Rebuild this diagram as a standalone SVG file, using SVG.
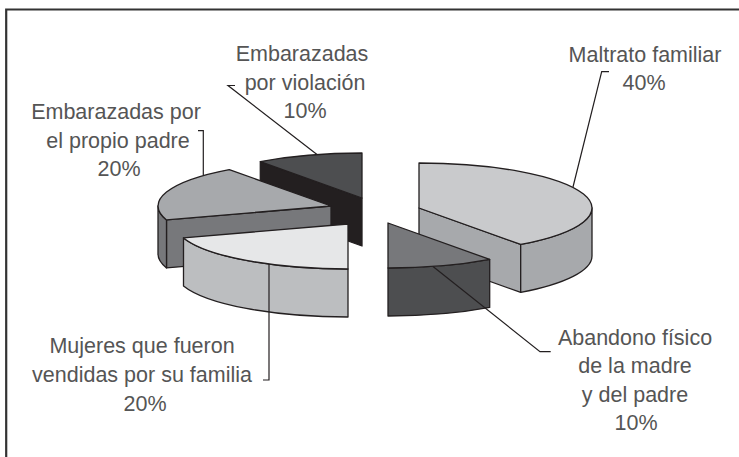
<svg xmlns="http://www.w3.org/2000/svg" width="739" height="457" viewBox="0 0 739 457">
<style>
.e{stroke:#231f20;stroke-width:1.3;stroke-linejoin:round}
.ld{fill:none;stroke:#231f20;stroke-width:1.2}
.t{font-family:"Liberation Sans",Arial,sans-serif;font-size:21.5px;fill:#555555;text-anchor:middle}
</style>
<rect width="739" height="457" fill="#ffffff"/>
<path d="M6.2,457 V9.5 H739" fill="none" stroke="#333333" stroke-width="2.2"/>
<g id="slice-violacion">
<path class="e" fill="#231f20" d="M362,198 L260.3,161.6 L260.3,209.6 L362,246 Z"/>
<path class="e" fill="#4d4e50" d="M362,198 L260.3,161.6 A173 45 0 0 1 362,153 Z"/>
</g>
<g id="slice-maltrato">
<path class="e" fill="#a7a9ac" d="M419,208 L520.7,244.4 L520.7,292.4 L419,256 Z"/>
<path class="e" fill="#a7a9ac" d="M592,208 A173 45 0 0 1 520.7,244.4 L520.7,292.4 A173 45 0 0 0 592,256 Z"/>
<path class="e" fill="#c9cacc" d="M419,208 L419,163 A173 45 0 0 1 520.7,244.4 Z"/>
</g>
<g id="slice-propio-padre">
<path class="e" fill="#77787b" d="M331,206 L166.5,219.9 L166.5,267.9 L331,254 Z"/>
<path class="e" fill="#77787b" d="M166.5,219.9 A173 45 0 0 1 158,206 L158,254 A173 45 0 0 0 166.5,267.9 Z"/>
<path class="e" fill="#a7a9ac" d="M331,206 L166.5,219.9 A173 45 0 0 1 229.3,169.6 Z"/>
</g>
<g id="slice-abandono">
<path class="e" fill="#4d4e50" d="M489.7,259.4 A173 45 0 0 1 388,268 L388,316 A173 45 0 0 0 489.7,307.4 Z"/>
<path class="e" fill="#77787b" d="M388,223 L489.7,259.4 A173 45 0 0 1 388,268 Z"/>
</g>
<g id="slice-vendidas">
<path class="e" fill="#bcbec0" d="M348,269 A173 45 0 0 1 183.5,237.9 L183.5,285.9 A173 45 0 0 0 348,317 Z"/>
<path class="e" fill="#e6e7e8" d="M348,224 L348,269 A173 45 0 0 1 183.5,237.9 Z"/>
</g>
<g id="connectors">
<polyline class="ld" points="573,187 601.7,71.7 609,71.7"/>
<polyline class="ld" points="433,266.5 540,351.7 550.7,351.7"/>
<polyline class="ld" points="269,264 269,380 263,380"/>
<polyline class="ld" points="203.3,175 203.3,130.7 198,130.7"/>
<polyline class="ld" points="317,154.5 228,85.5 235,85.5"/>
</g>
<g id="label-maltrato">
<text class="t" x="645" y="61.5">Maltrato familiar</text>
<text class="t" x="644" y="90">40%</text>
</g>
<g id="label-violacion">
<text class="t" x="302" y="61">Embarazadas</text>
<text class="t" x="305" y="89.5">por violación</text>
<text class="t" x="305" y="118">10%</text>
</g>
<g id="label-propio-padre">
<text class="t" x="116" y="119">Embarazadas por</text>
<text class="t" x="118" y="147.5">el propio padre</text>
<text class="t" x="119" y="175.5">20%</text>
</g>
<g id="label-vendidas">
<text class="t" x="142" y="353">Mujeres que fueron</text>
<text class="t" x="142" y="382">vendidas por su familia</text>
<text class="t" x="145" y="410.5">20%</text>
</g>
<g id="label-abandono">
<text class="t" x="635" y="345">Abandono físico</text>
<text class="t" x="635" y="373">de la madre</text>
<text class="t" x="635" y="401.5">y del padre</text>
<text class="t" x="636" y="430">10%</text>
</g>
</svg>
